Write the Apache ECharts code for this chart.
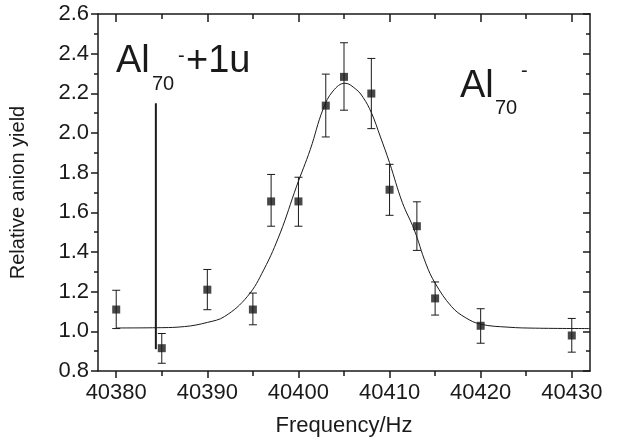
<!DOCTYPE html>
<html>
<head>
<meta charset="utf-8">
<script src="https://cdn.jsdelivr.net/npm/echarts@6/dist/echarts.min.js"></script>
<style>
  html, body { margin: 0; padding: 0; background: #fff; }
  #main { width: 618px; height: 445px; }
</style>
</head>
<body>
<div id="main"></div>
<script>
var myChart = echarts.init(document.getElementById('main'));

// measured points with error bars
var freq = [40380, 40385, 40390, 40395, 40397, 40400, 40403, 40405, 40408, 40410, 40413, 40415, 40420, 40430];
var yieldVal = [1.11, 0.915, 1.21, 1.11, 1.655, 1.655, 2.138, 2.283, 2.199, 1.714, 1.530, 1.166, 1.028, 0.979];
var errLow = [1.014, 0.839, 1.109, 1.033, 1.530, 1.530, 1.980, 2.115, 2.022, 1.585, 1.408, 1.082, 0.940, 0.895];
var errHigh = [1.207, 0.989, 1.312, 1.193, 1.791, 1.777, 2.297, 2.455, 2.376, 1.842, 1.653, 1.249, 1.114, 1.065];

// fit curve
var fitFreq = [40380, 40384, 40387.5, 40390, 40391.9, 40394.4, 40396.2, 40398, 40399.8, 40401.3, 40402.7, 40403.8, 40405.1,
    40406.3, 40407.1, 40408, 40409, 40410, 40411.4, 40412.7, 40414, 40415, 40416.8, 40418.3, 40420, 40423, 40426, 40432];
var fitVal = [1.017, 1.018, 1.024, 1.045, 1.075, 1.176, 1.311, 1.496, 1.732, 1.917, 2.12, 2.212, 2.251,
    2.221, 2.179, 2.103, 1.98, 1.85, 1.65, 1.513, 1.34, 1.243, 1.125, 1.07, 1.036, 1.021, 1.016, 1.014];

// vertical marker for Al70- + 1u
var markerFreq = [40384.35, 40384.35];
var markerVal = [0.91, 2.15];

var xMajor = [40380, 40390, 40400, 40410, 40420, 40430];
var xMinor = [40385, 40395, 40405, 40415, 40425];

var FONT = '"Liberation Sans", Arial, sans-serif';
var INK = '#1a1a1a';

var zip = function (a, b) {
    var res = [];
    for (var i = 0; i < a.length; i++) res.push([a[i], b[i]]);
    return res;
};

var errData = [];
for (var i = 0; i < freq.length; i++) {
    errData.push([freq[i], errLow[i], errHigh[i]]);
}

// x axes: one per tick row (major/minor, bottom/top), all on the same scale
var xBase = function (extra) {
    var o = {
        type: 'value', min: 40378, max: 40432,
        splitLine: { show: false },
        axisLine: { show: false },
        axisLabel: { show: false },
        axisTick: { show: false }
    };
    for (var k in extra) o[k] = extra[k];
    return o;
};

option = {
    animation: false,
    grid: { left: 92, right: 28, top: 14, bottom: 74 },
    xAxis: [
        xBase({
            position: 'bottom',
            name: 'Frequency/Hz',
            nameLocation: 'middle',
            nameGap: 44,
            nameTextStyle: { fontFamily: FONT, fontSize: 22, color: INK },
            axisLine: { show: true, onZero: false, lineStyle: { color: INK, width: 1.5 } },
            axisTick: { show: true, inside: false, length: 7, customValues: xMajor, lineStyle: { color: INK, width: 1.5 } },
            axisLabel: {
                show: true, margin: 11, customValues: xMajor, fontFamily: FONT, fontSize: 22, color: INK,
                formatter: function (v) { return String(v); }
            }
        }),
        xBase({
            position: 'bottom',
            axisTick: { show: true, inside: false, length: 5, customValues: xMinor, lineStyle: { color: INK, width: 1.5 } }
        }),
        xBase({
            position: 'top',
            axisLine: { show: true, onZero: false, lineStyle: { color: INK, width: 1.5 } },
            axisTick: { show: true, inside: true, length: 8, customValues: xMajor, lineStyle: { color: INK, width: 1.5 } }
        }),
        xBase({
            position: 'top',
            axisTick: { show: true, inside: true, length: 5, customValues: xMinor, lineStyle: { color: INK, width: 1.5 } }
        })
    ],
    yAxis: [
        {
            type: 'value', min: 0.8, max: 2.6, interval: 0.2,
            position: 'left',
            name: 'Relative anion yield',
            nameLocation: 'middle',
            nameGap: 70,
            nameTextStyle: { fontFamily: FONT, fontSize: 20, color: INK },
            splitLine: { show: false },
            axisLine: { show: true, onZero: false, lineStyle: { color: INK, width: 1.5 } },
            axisTick: { show: true, inside: false, length: 7, lineStyle: { color: INK, width: 1.5 } },
            minorTick: { show: true, splitNumber: 2, length: 4, lineStyle: { color: INK, width: 1.5 } },
            axisLabel: {
                margin: 9, fontFamily: FONT, fontSize: 22, color: INK,
                formatter: function (v) { return v.toFixed(1); }
            }
        },
        {
            type: 'value', min: 0.8, max: 2.6, interval: 0.2,
            position: 'right',
            splitLine: { show: false },
            axisLine: { show: true, onZero: false, lineStyle: { color: INK, width: 1.5 } },
            axisTick: { show: true, inside: true, length: 7, lineStyle: { color: INK, width: 1.5 } },
            minorTick: { show: true, splitNumber: 2, length: 4, lineStyle: { color: INK, width: 1.5 } },
            axisLabel: { show: false }
        }
    ],
    graphic: [
        { type: 'text', x: 116, y: 62, style: { text: 'Al', font: '38px ' + FONT, fill: INK, verticalAlign: 'middle' } },
        { type: 'text', x: 152, y: 84, style: { text: '70', font: '20px ' + FONT, fill: INK, verticalAlign: 'middle' } },
        { type: 'text', x: 178, y: 56, style: { text: '-', font: '20px ' + FONT, fill: INK, verticalAlign: 'middle' } },
        { type: 'text', x: 186, y: 62, style: { text: '+1u', font: '38px ' + FONT, fill: INK, verticalAlign: 'middle' } },
        { type: 'text', x: 460, y: 87, style: { text: 'Al', font: '38px ' + FONT, fill: INK, verticalAlign: 'middle' } },
        { type: 'text', x: 495, y: 108, style: { text: '70', font: '20px ' + FONT, fill: INK, verticalAlign: 'middle' } },
        { type: 'text', x: 521, y: 71, style: { text: '-', font: '20px ' + FONT, fill: INK, verticalAlign: 'middle' } }
    ],
    series: [
        {
            name: 'fit',
            type: 'line',
            xAxisIndex: 0, yAxisIndex: 0,
            data: zip(fitFreq, fitVal),
            smooth: 0.4,
            showSymbol: false,
            lineStyle: { color: INK, width: 1 },
            z: 2
        },
        {
            name: 'marker',
            type: 'line',
            xAxisIndex: 0, yAxisIndex: 0,
            data: zip(markerFreq, markerVal),
            showSymbol: false,
            lineStyle: { color: INK, width: 2 },
            z: 2
        },
        {
            name: 'error',
            type: 'custom',
            xAxisIndex: 0, yAxisIndex: 0,
            data: errData,
            renderItem: function (params, api) {
                var lo = api.coord([api.value(0), api.value(1)]);
                var hi = api.coord([api.value(0), api.value(2)]);
                var w = 4;
                var st = { stroke: INK, lineWidth: 1 };
                return {
                    type: 'group',
                    children: [
                        { type: 'line', shape: { x1: lo[0], y1: lo[1], x2: hi[0], y2: hi[1] }, style: st },
                        { type: 'line', shape: { x1: lo[0] - w, y1: lo[1], x2: lo[0] + w, y2: lo[1] }, style: st },
                        { type: 'line', shape: { x1: hi[0] - w, y1: hi[1], x2: hi[0] + w, y2: hi[1] }, style: st }
                    ]
                };
            },
            z: 3
        },
        {
            name: 'data',
            type: 'scatter',
            xAxisIndex: 0, yAxisIndex: 0,
            data: zip(freq, yieldVal),
            symbol: 'rect',
            symbolSize: 8,
            itemStyle: { color: INK },
            z: 4
        }
    ]
};

myChart.setOption(option);
</script>
</body>
</html>
